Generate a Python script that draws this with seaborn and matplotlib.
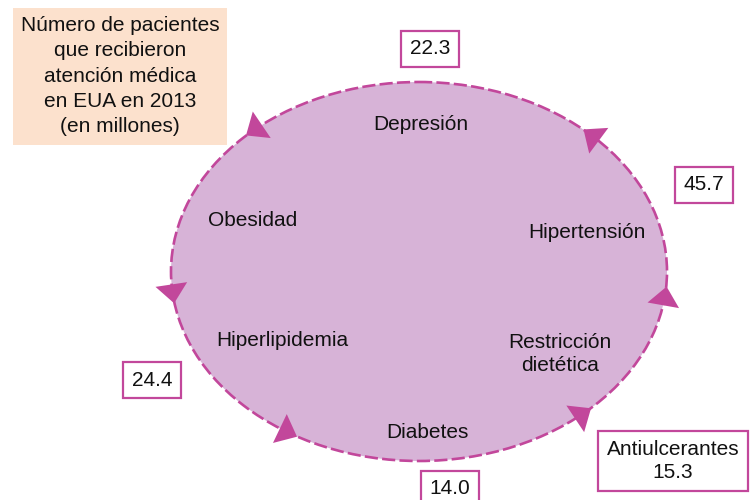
import numpy as np
import matplotlib
matplotlib.use("Agg")
import matplotlib.pyplot as plt
from matplotlib.patches import Ellipse, Polygon, Rectangle
import seaborn as sns

# categories inside the cycle and where they sit
categories = ["Depresión", "Hipertensión", "Restricción\ndietética", "Diabetes", "Hiperlipidemia", "Obesidad"]
cat_x = [421, 587, 560, 427, 282, 253]
cat_y = [125, 232, 354, 433, 341, 221]

# value boxes outside the cycle (millones)
values = [22.3, 45.7, 15.3, 14.0, 24.4]
value_labels = ["22.3", "45.7", "Antiulcerantes\n15.3", "14.0", "24.4"]
box_x = [430, 704, 673, 450, 152]
box_y = [49, 185, 461, 489, 380]

# arrow heads along the border (angle on the ellipse, degrees)
arrow_angles = [131.5, 45.8, -7.7, -48.8, -122.0, 186.5]

title = "Número de pacientes\nque recibieron\natención médica\nen EUA en 2013\n(en millones)"

fill_col = "#D7B3D7"
line_col = "#C2479B"
peach = "#FCE1CD"

sns.set_theme(style="white")
plt.rcParams["font.family"] = ["Liberation Sans", "DejaVu Sans"]

fig = plt.figure(figsize=(7.54, 5.0), dpi=100)
ax = fig.add_axes([0, 0, 1, 1])
ax.set_xlim(0, 754)
ax.set_ylim(500, 0)
ax.axis("off")

# the cycle
cx, cy, a, b = 419, 271.5, 248, 189.5
ax.add_patch(Ellipse((cx, cy), 2 * a, 2 * b, facecolor=fill_col, edgecolor="none", zorder=1))
ax.add_patch(Ellipse((cx, cy), 2 * a, 2 * b, facecolor="none", edgecolor=line_col,
                     lw=1.9, linestyle=(0, (5, 1.6)), zorder=2))

# arrow heads pointing counter-clockwise
h, w = 19, 16
for ang in arrow_angles:
    t = np.deg2rad(ang)
    p = np.array([cx + a * np.cos(t), cy - b * np.sin(t)])
    u = np.array([-a * np.sin(t), -b * np.cos(t)])
    u = u / np.linalg.norm(u)
    n = np.array([-u[1], u[0]])
    tip = p + u * h * 0.55
    base = p - u * h * 0.45
    tri = [tip, base + n * w, base - n * w]
    ax.add_patch(Polygon(tri, closed=True, facecolor=line_col, edgecolor="none", zorder=3))

for lab, x, y in zip(categories, cat_x, cat_y):
    ax.text(x, y, lab, ha="center", va="center", fontsize=15, color="#111111", zorder=4,
            linespacing=1.3)

for lab, x, y in zip(value_labels, box_x, box_y):
    pad = 0.4
    ax.text(x, y, lab, ha="center", va="center", fontsize=15, color="#111111", zorder=5,
            linespacing=1.3,
            bbox=dict(boxstyle=f"square,pad={pad}", facecolor="white", edgecolor=line_col, lw=1.6))

# title panel
ax.add_patch(Rectangle((13, 8), 214, 137, facecolor=peach, edgecolor="none", zorder=1))
ax.text(120, 76, title, ha="center", va="center", fontsize=15, color="#111111", linespacing=1.42,
        zorder=2)

fig.savefig("out.png", dpi=100)
